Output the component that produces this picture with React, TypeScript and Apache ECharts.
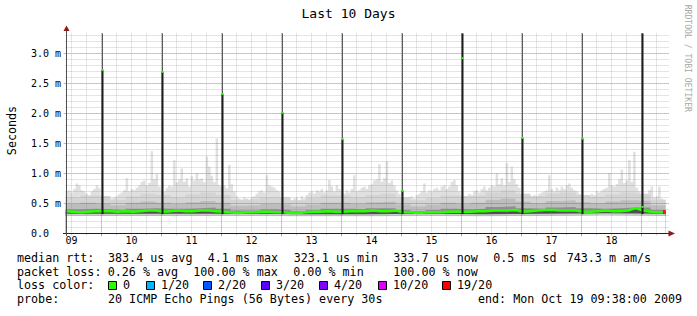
import React, { useEffect, useRef } from "react";
import * as echarts from "echarts";

// ---------- time frame (hours counted from Oct 09 00:00) ----------
const START_H = 9 + 38 / 60; // Oct 09 09:38
const END_H = START_H + 240; // Oct 19 09:38
const Y_MAX = 10 / 3; // top of plot, in ms

// ---------- data (values in ms) ----------
// hourly maximum ping (light smoke)
const maxSmoke = [
  0.7, 0.72, 0.68, 0.74, 0.83, 0.8, 0.72, 0.7, 0.66, 0.62, 0.7, 0.74, 0.8, 0.76,
  0.5, 0.52, 0.55, 0.56, 0.58, 0.6, 0.62, 0.65, 0.68, 0.72, 0.92, 0.7, 0.74, 0.72, 0.76, 0.8, 0.86, 0.88, 0.8, 0.84, 1.37, 0.9, 0.99, 0.78,
  0.72, 0.7, 0.75, 0.8, 0.78, 1.22, 0.85, 0.9, 1.08, 0.86, 0.92, 0.78, 0.95, 0.88, 1.0, 0.9, 0.92, 0.85, 1.28, 1.11, 0.96, 0.85, 1.58, 0.8,
  0.78, 0.8, 0.75, 1.14, 0.82, 0.7, 0.62, 0.58, 0.56, 0.6, 0.58, 0.55, 0.6, 0.62, 0.66, 0.7, 0.72, 0.68, 0.97, 0.8, 0.78, 0.76, 0.72, 0.7,
  0.58, 0.55, 0.6, 0.56, 0.52, 0.58, 0.6, 0.55, 0.62, 0.58, 0.64, 0.68, 0.7, 0.66, 0.72, 0.7, 0.74, 0.68, 0.72, 0.89, 0.78, 0.7, 0.8, 0.74,
  0.7, 0.66, 0.72, 0.68, 0.74, 0.97, 0.7, 0.72, 0.76, 0.78, 0.74, 0.8, 0.82, 0.88, 0.9, 1.15, 0.86, 0.92, 1.2, 0.84, 0.88, 0.8, 0.72, 0.66,
  0.52, 0.55, 0.58, 0.6, 0.62, 0.58, 0.64, 0.66, 0.7, 0.83, 0.68, 0.72, 0.7, 0.74, 0.76, 0.72, 0.78, 0.8, 0.74, 0.78, 0.86, 0.89, 0.8, 0.7,
  0.55, 0.58, 0.62, 0.66, 0.64, 0.7, 0.72, 0.68, 0.74, 0.78, 0.72, 0.76, 0.8, 0.78, 1.0, 0.82, 0.92, 0.8, 1.17, 0.86, 1.11, 0.9, 0.82, 0.76,
  0.58, 0.56, 0.6, 0.62, 0.6, 0.64, 0.62, 0.66, 0.68, 0.7, 0.72, 0.97, 0.74, 0.7, 0.76, 0.72, 0.78, 0.74, 0.8, 0.83, 0.76, 0.72, 0.7, 0.66,
  0.56, 0.58, 0.62, 0.6, 0.66, 0.64, 0.7, 0.68, 0.72, 0.74, 0.76, 1.0, 0.8, 0.78, 0.82, 0.9, 1.06, 0.84, 0.88, 1.22, 0.86, 1.36, 0.76, 0.7,
  0.55, 0.58, 0.6, 0.72, 0.78, 0.6, 0.62, 0.78, 0.58, 0.56,
];
// 6-hourly smoke band tops
const lightTop = [
  0.6, 0.63, 0.62, 0.56, 0.62, 0.66, 0.64, 0.6, 0.65, 0.68, 0.64, 0.56, 0.57, 0.6, 0.6, 0.55, 0.59, 0.63, 0.63, 0.6,
  0.64, 0.66, 0.6, 0.55, 0.59, 0.63, 0.62, 0.63, 0.68, 0.72, 0.66, 0.62, 0.66, 0.68, 0.64, 0.61, 0.65, 0.68, 0.66, 0.56,
];
const midTop = [
  0.49, 0.51, 0.49, 0.47, 0.51, 0.53, 0.51, 0.49, 0.52, 0.54, 0.51, 0.46, 0.47, 0.49, 0.48, 0.45, 0.48, 0.51, 0.51, 0.49,
  0.52, 0.53, 0.48, 0.45, 0.48, 0.51, 0.49, 0.51, 0.56, 0.58, 0.53, 0.5, 0.54, 0.55, 0.52, 0.5, 0.53, 0.55, 0.54, 0.47,
];
const darkTop = [
  0.4, 0.41, 0.4, 0.39, 0.41, 0.42, 0.41, 0.41, 0.42, 0.43, 0.41, 0.38, 0.38, 0.4, 0.39, 0.37, 0.39, 0.41, 0.41, 0.4,
  0.42, 0.42, 0.39, 0.37, 0.39, 0.41, 0.4, 0.41, 0.44, 0.45, 0.42, 0.41, 0.43, 0.44, 0.42, 0.41, 0.42, 0.43, 0.43, 0.39,
];
// daily lower smoke limits
const lowDark = [0.325, 0.325, 0.325, 0.32, 0.32, 0.325, 0.32, 0.325, 0.335, 0.325];
const smokeMin = [0.29, 0.29, 0.29, 0.285, 0.285, 0.29, 0.285, 0.29, 0.3, 0.29];
// 3-hourly median rtt
const medianRtt = [
  0.37, 0.36, 0.35, 0.36, 0.37, 0.37, 0.37, 0.36, 0.37, 0.36, 0.37, 0.38, 0.38, 0.36, 0.37, 0.38, 0.37, 0.37, 0.38, 0.38,
  0.37, 0.36, 0.35, 0.34, 0.35, 0.35, 0.36, 0.36, 0.35, 0.35, 0.34, 0.34, 0.35, 0.36, 0.36, 0.37, 0.36, 0.36, 0.37, 0.37,
  0.37, 0.38, 0.37, 0.37, 0.38, 0.35, 0.35, 0.34, 0.35, 0.35, 0.35, 0.36, 0.36, 0.36, 0.36, 0.37, 0.37, 0.38, 0.38, 0.38,
  0.39, 0.36, 0.37, 0.38, 0.39, 0.39, 0.38, 0.38, 0.38, 0.36, 0.36, 0.37, 0.38, 0.37, 0.37, 0.38, 0.42, 0.38, 0.36, 0.35,
];
// daily midnight spikes
const spikeHours = [24.1, 48.1, 72.1, 96.1, 120.1, 144.1, 168.1, 192.1, 216.1, 240.1];
const spikeMedian = [2.72, 2.69, 2.32, 2.01, 1.57, 0.71, 2.92, 1.59, 1.58, 0.44];
const spikeDarkTop = [2.72, 2.69, 2.32, 2.01, 1.57, 0.71, Y_MAX, 1.59, 1.58, Y_MAX];
const spikeBase = [0.32, 0.32, 0.32, 0.32, 0.32, 0.32, 0.32, 0.32, 0.32, 0.32];
// loss marks on the median line
const lossMarks = [[END_H - 0.5, 0.355]];

// ---------- tick labels ----------
const dayLabels = ["09", "10", "11", "12", "13", "14", "15", "16", "17", "18"];
const yLabels = ["0.0", "0.5 m", "1.0 m", "1.5 m", "2.0 m", "2.5 m", "3.0 m"];

// ---------- legend ----------
const lossLabels = ["0", "1/20", "2/20", "3/20", "4/20", "10/20", "19/20"];
const lossColors = ["#26ff00", "#00b8ff", "#0059ff", "#5e00ff", "#7e00ff", "#dd00ff", "#ff0000"];
const statsRows: [string, number][][] = [
  [["median rtt:", 17], ["383.4 us avg", 108], ["4.1 ms max", 207.7], ["323.1 us min", 293.7], ["333.7 us now", 393.3], ["0.5 ms sd", 493.3], ["743.3 m am/s", 566.7]],
  [["packet loss:", 17], ["0.26 % avg", 107.7], ["100.00 % max", 193.3], ["0.00 % min", 293.3], ["100.00 % now", 393.3]],
  [["loss color:", 17]],
  [["probe:", 17], ["20 ICMP Echo Pings (56 Bytes) every 30s", 108], ["end: Mon Oct 19 09:38:00 2009", 478]],
];

// ---------- layout ----------
const MONO = '"DejaVu Sans Mono", monospace';
const PLOT_LEFT = 65.6;
const PLOT_BOTTOM = 233.33;
const PX_PER_H = 2.5;
const PX_PER_MS = 60;
const PLOT_TOP = PLOT_BOTTOM - Y_MAX * PX_PER_MS;
const ROW_Y = [258.3, 271.8, 285.3, 298.7];
const LOSS_BOX_X = [108, 146, 203, 261, 319, 378, 442];
const hx = (h: number) => PLOT_LEFT + (h - START_H) * PX_PER_H;

const MINOR = "rgba(128,128,128,0.42)";
const MAJOR = "rgba(255,0,0,0.38)";

function stepData(values: number[], stepH: number) {
  const pts = values.map((v, i) => [START_H + i * stepH, v]);
  pts.push([END_H, values[values.length - 1]]);
  return pts;
}

function area(name: string, data: number[][], color: string, step: any) {
  return {
    name,
    type: "line",
    xAxisIndex: 0,
    yAxisIndex: 0,
    step,
    symbol: "none",
    silent: true,
    z: 2,
    lineStyle: { width: 0, opacity: 0 },
    areaStyle: { color, opacity: 1 },
    data,
  };
}

function buildOption(): any {
  const grids = [
    { left: PLOT_LEFT, top: PLOT_TOP, width: 600, height: PLOT_BOTTOM - PLOT_TOP },
    { left: hx(12), top: PLOT_TOP, width: (246 - 12) * PX_PER_H, height: PLOT_BOTTOM - PLOT_TOP },
    { left: hx(24), top: PLOT_TOP, width: (240 - 24) * PX_PER_H, height: PLOT_BOTTOM - PLOT_TOP },
    { left: PLOT_LEFT, top: PLOT_BOTTOM - 3.3 * PX_PER_MS, width: 603, height: 3.3 * PX_PER_MS },
    { left: PLOT_LEFT, top: PLOT_BOTTOM - 3 * PX_PER_MS, width: 603, height: 3 * PX_PER_MS },
  ].map((g) => ({ ...g, containLabel: false, show: false }));

  const xAxis = [
    { gridIndex: 0, type: "value", min: START_H, max: END_H, show: false },
    {
      gridIndex: 1, type: "value", min: 12, max: 246, interval: 6, z: 3,
      axisLine: { show: false },
      axisTick: { show: true, length: 2, lineStyle: { color: MINOR } },
      splitLine: { show: true, lineStyle: { color: MINOR, width: 1, type: [1, 1] } },
      axisLabel: {
        show: true, margin: 2, fontFamily: MONO, fontSize: 10, color: "#000",
        formatter: (v: number) => {
          const k = (v - 12) / 24;
          return Number.isInteger(k) && dayLabels[k] ? dayLabels[k] : "";
        },
      },
    },
    {
      gridIndex: 2, type: "value", min: 24, max: 240, interval: 24, z: 3,
      axisLine: { show: false },
      axisTick: { show: true, length: 3, lineStyle: { color: MAJOR } },
      splitLine: { show: true, lineStyle: { color: MAJOR, width: 1, type: [1, 1] } },
      axisLabel: { show: false },
    },
    { gridIndex: 3, type: "value", min: 0, max: 1, show: false },
    { gridIndex: 4, type: "value", min: 0, max: 1, show: false },
  ];
  const yAxis = [
    { gridIndex: 0, type: "value", min: 0, max: Y_MAX, show: false },
    { gridIndex: 1, type: "value", min: 0, max: 1, show: false },
    { gridIndex: 2, type: "value", min: 0, max: 1, show: false },
    {
      gridIndex: 3, type: "value", min: 0, max: 3.3, interval: 0.1, z: 3,
      axisLine: { show: false }, axisTick: { show: false }, axisLabel: { show: false },
      splitLine: { show: true, lineStyle: { color: MINOR, width: 1, type: [1, 1] } },
    },
    {
      gridIndex: 4, type: "value", min: 0, max: 3, interval: 0.5, z: 3,
      axisLine: { show: false },
      axisTick: { show: true, length: 2, lineStyle: { color: MAJOR } },
      splitLine: { show: true, lineStyle: { color: MAJOR, width: 1, type: [1, 1] } },
      axisLabel: {
        show: true, align: "left", margin: PLOT_LEFT - 31, fontFamily: MONO, fontSize: 10, color: "#000",
        formatter: (v: number) => yLabels[Math.round(v * 2)] ?? "",
      },
    },
  ];

  const series: any[] = [
    area("max", stepData(maxSmoke, 1), "#e0e0e0", "end"),
    area("light", stepData(lightTop, 6), "#d4d4d4", "end"),
    area("mid", stepData(midTop, 6), "#bdbdbd", "end"),
    area("dark", stepData(darkTop, 6), "#8e8e8e", "end"),
    area("belowMedian", stepData(medianRtt, 3), "#505050", false),
    area("lowDark", stepData(lowDark, 24), "#cccccc", "end"),
    area("min", stepData(smokeMin, 24), "#ffffff", "end"),
    {
      name: "median",
      type: "line",
      xAxisIndex: 0,
      yAxisIndex: 0,
      symbol: "none",
      z: 5,
      lineStyle: { color: "#26ff00", width: 2.5 },
      data: stepData(medianRtt, 3),
    },
    {
      name: "spikes",
      type: "custom",
      xAxisIndex: 0,
      yAxisIndex: 0,
      z: 6,
      encode: { x: 0, y: 1 },
      data: spikeHours.map((h, i) => [h, spikeMedian[i], spikeDarkTop[i], spikeBase[i]]),
      renderItem: (_params: any, api: any) => {
        const h = api.value(0);
        const med = api.value(1);
        const top = api.value(2);
        const baseV = api.value(3);
        const pBase = api.coord([h, baseV]);
        const pTop = api.coord([h, top]);
        const pMax = api.coord([h, Y_MAX]);
        const pMed = api.coord([h, med]);
        const x = Math.round(pBase[0]);
        return {
          type: "group",
          children: [
            { type: "line", shape: { x1: x + 0.5, y1: pTop[1], x2: x + 0.5, y2: pMax[1] }, style: { stroke: "#5a5a5a", lineWidth: 1 } },
            { type: "rect", shape: { x: x - 0.5, y: pTop[1], width: 2, height: pBase[1] - pTop[1] }, style: { fill: "#1c1c1c" } },
            { type: "rect", shape: { x: x - 0.5, y: pMed[1] - 1, width: 2, height: 2 }, style: { fill: "#26ff00" } },
          ],
        };
      },
    },
    {
      name: "loss",
      type: "scatter",
      xAxisIndex: 0,
      yAxisIndex: 0,
      z: 7,
      symbol: "rect",
      symbolSize: [3, 4],
      itemStyle: { color: "#ff0000" },
      data: lossMarks,
    },
  ];

  const text = (t: string, x: number, y: number, size: number, extra: any = {}) => ({
    type: "text",
    x,
    y,
    z: 20,
    silent: true,
    ...extra,
    style: {
      text: t,
      fontFamily: MONO,
      fontSize: size,
      fill: extra.fill ?? "#000",
      align: extra.align ?? "left",
      verticalAlign: "middle",
    },
  });

  const graphic: any[] = [
    text("Last 10 Days", 348.5, 13.8, 13, { align: "center" }),
    text("Seconds", 11.7, 130.5, 11.7, { align: "center", rotation: Math.PI / 2 }),
    text("RRDTOOL / TOBI OETIKER", 687.8, 58.3, 8.1, { align: "center", rotation: -Math.PI / 2, fill: "#a8a8a8" }),
    // axis lines + arrows
    { type: "line", z: 15, silent: true, shape: { x1: 63, y1: 233.5, x2: 669, y2: 233.5 }, style: { stroke: "#202020", lineWidth: 1 } },
    { type: "line", z: 15, silent: true, shape: { x1: 66.5, y1: 236, x2: 66.5, y2: 29 }, style: { stroke: "#505050", lineWidth: 1 } },
    { type: "polygon", z: 16, silent: true, shape: { points: [[66.5, 25.5], [63.5, 31], [69.5, 31]] }, style: { fill: "#8b1a1a" } },
    { type: "polygon", z: 16, silent: true, shape: { points: [[675, 233.5], [668.5, 230.5], [668.5, 236.5]] }, style: { fill: "#8b1a1a" } },
  ];

  statsRows.forEach((row, r) => {
    row.forEach(([t, x]) => graphic.push(text(t, x, ROW_Y[r], 11.7)));
  });
  lossLabels.forEach((lab, i) => {
    const bx = LOSS_BOX_X[i];
    graphic.push({
      type: "rect", z: 20, silent: true,
      shape: { x: bx + 0.5, y: 281.5, width: 8, height: 8 },
      style: { fill: lossColors[i], stroke: "#000", lineWidth: 1 },
    });
    graphic.push(text(lab, bx + 15, ROW_Y[2], 11.7));
  });

  return {
    animation: false,
    backgroundColor: "#ffffff",
    grid: grids,
    xAxis,
    yAxis,
    series,
    graphic,
  };
}

export default function App() {
  const ref = useRef<HTMLDivElement>(null);
  useEffect(() => {
    if (!ref.current) return;
    const chart = echarts.init(ref.current, null, { renderer: "svg" });
    chart.setOption(buildOption());
    return () => chart.dispose();
  }, []);
  return (
    <div
      ref={ref}
      style={{ position: "fixed", left: 0, top: 0, width: 697, height: 316, background: "#fff" }}
    />
  );
}
